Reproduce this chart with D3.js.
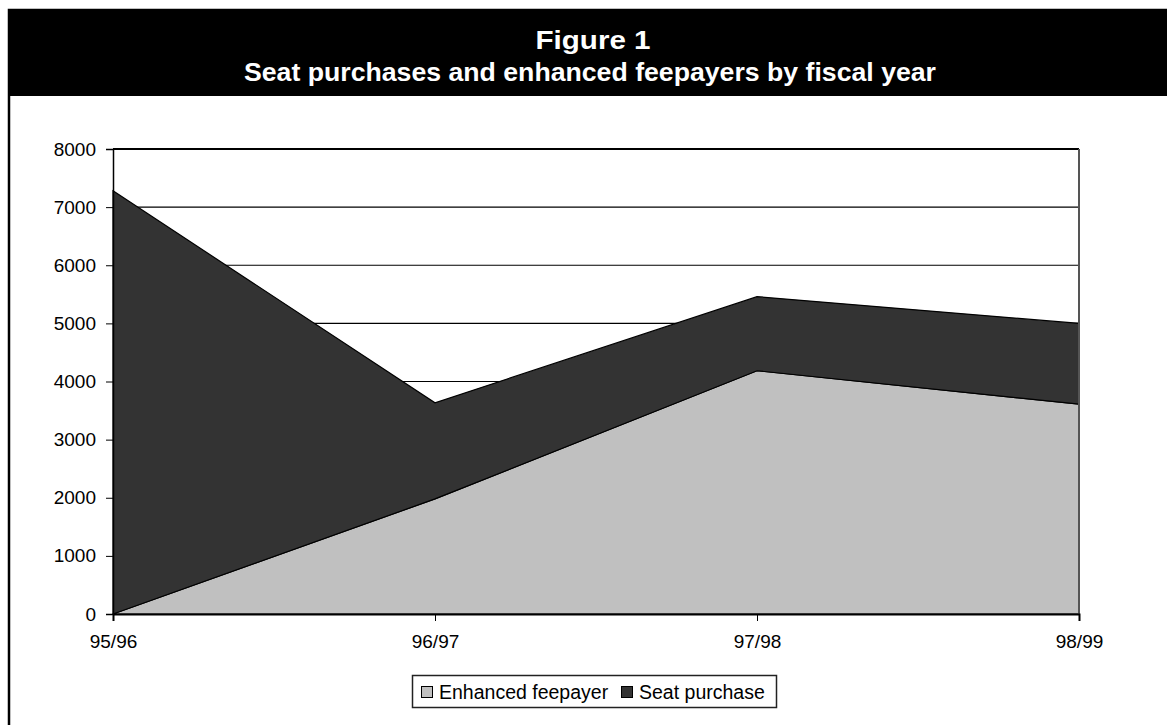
<!DOCTYPE html>
<html><head><meta charset="utf-8">
<script src="https://cdn.jsdelivr.net/npm/d3@7"></script>
<style>
html,body{margin:0;padding:0;background:#fff;}
text{font-family:"Liberation Sans",Arial,sans-serif;}
</style></head>
<body>
<svg id="chart" width="1167" height="725"></svg>
<script>
const categories = ["95/96","96/97","97/98","98/99"];
const enhancedFeepayer = [0, 1980, 4185, 3610];
const seatPurchase = [7280, 1655, 1275, 1390];
const yTicks = [0,1000,2000,3000,4000,5000,6000,7000,8000];
const seriesNames = ["Enhanced feepayer","Seat purchase"];
const seriesColors = ["#c0c0c0","#333333"];
const titleText = "Figure 1";
const subtitleText = "Seat purchases and enhanced feepayers by fiscal year";

(function(){
const svg = d3.select("#chart");
const W = 1167, H = 725;

// frame
svg.append("rect").attr("x",9).attr("y",10).attr("width",W+10).attr("height",H+10)
  .attr("fill","#fff").attr("stroke","#000").attr("stroke-width",2.5);
svg.append("rect").attr("x",8).attr("y",10).attr("width",W).attr("height",86).attr("fill","#000");
svg.append("text").attr("x",593).attr("y",49).attr("text-anchor","middle")
  .attr("fill","#fff").attr("font-weight","bold").attr("font-size",26)
  .attr("textLength",115).attr("lengthAdjust","spacingAndGlyphs").text(titleText);
svg.append("text").attr("x",590).attr("y",81).attr("text-anchor","middle")
  .attr("fill","#fff").attr("font-weight","bold").attr("font-size",25)
  .attr("textLength",692).attr("lengthAdjust","spacingAndGlyphs").text(subtitleText);

const pL = 113, pR = 1079, pT = 149, pB = 614;
const x = d3.scalePoint().domain(categories).range([pL,pR]);
const y = d3.scaleLinear().domain([0,8000]).range([pB,pT]);

// gridlines
svg.append("g").selectAll("line").data(yTicks.filter(d=>d>0)).join("line")
  .attr("x1",pL).attr("x2",pR).attr("y1",d=>y(d)).attr("y2",d=>y(d))
  .attr("stroke","#000").attr("stroke-width",d=>d===8000?2:1.2);

// stacked data
const rows = categories.map((c,i)=>({cat:c, a:enhancedFeepayer[i], b:seatPurchase[i]}));
const stack = d3.stack().keys(["a","b"])(rows);
const area = d3.area().x(d=>x(d.data.cat)).y0(d=>y(d[0])).y1(d=>y(d[1]));
svg.append("g").selectAll("path").data(stack).join("path")
  .attr("d",area).attr("fill",(d,i)=>seriesColors[i])
  .attr("stroke","#000").attr("stroke-width",1.2).attr("stroke-linejoin","miter");

// right border
svg.append("line").attr("x1",pR).attr("x2",pR).attr("y1",pT).attr("y2",pB)
  .attr("stroke","#555").attr("stroke-width",2);

// axes
const yAxis = d3.axisLeft(y).tickValues(yTicks).tickSize(7).tickPadding(10).tickFormat(d3.format("d"));
const gy = svg.append("g").attr("transform",`translate(${pL},0)`).call(yAxis);
gy.select(".domain").attr("stroke","#000").attr("stroke-width",1.5);
gy.selectAll(".tick line").attr("stroke","#000");
gy.selectAll("text").attr("font-size",19).attr("fill","#000").style("font-family","'Liberation Sans',Arial,sans-serif");

const xAxis = d3.axisBottom(x).tickSize(7).tickPadding(14);
const gx = svg.append("g").attr("transform",`translate(0,${pB})`).call(xAxis);
gx.select(".domain").attr("stroke","#000").attr("stroke-width",2);
gx.selectAll(".tick line").attr("stroke","#000");
gx.selectAll("text").attr("font-size",19).attr("fill","#000").style("font-family","'Liberation Sans',Arial,sans-serif");

// legend
const lg = svg.append("g");
lg.append("rect").attr("x",412.5).attr("y",675.5).attr("width",364).attr("height",32)
  .attr("fill","#fff").attr("stroke","#222").attr("stroke-width",1.5);
const legendX = [421, 621];
seriesNames.forEach((n,i)=>{
  lg.append("rect").attr("x",legendX[i]+0.5).attr("y",686.5).attr("width",11).attr("height",11)
    .attr("fill",seriesColors[i]).attr("stroke","#000").attr("stroke-width",1);
  lg.append("text").attr("x",legendX[i]+18).attr("y",699).attr("font-size",19.5).attr("fill","#000").text(n);
});
})();
</script>
</body></html>
